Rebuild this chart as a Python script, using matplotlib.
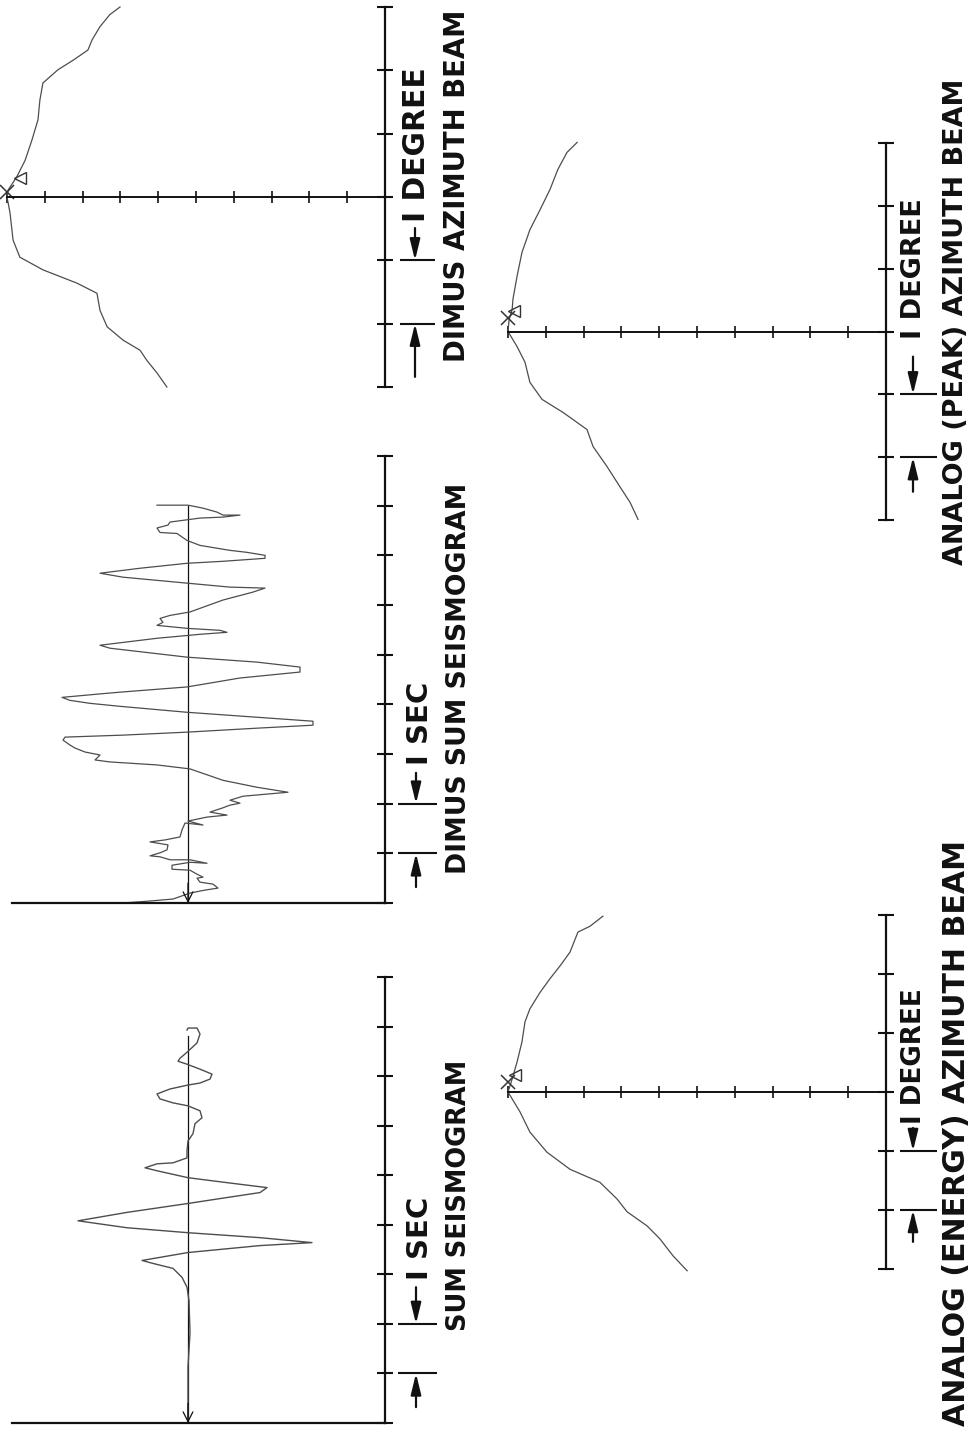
import matplotlib
matplotlib.use("Agg")
import matplotlib.pyplot as plt
import matplotlib.transforms as mtransforms

W, H, DPI = 977, 1431, 100

# ---------------- data ----------------
deg_ticks = [-3, -2, -1, 0, 1, 2, 3]
level_ticks = list(range(0, 11))
sec_ticks = list(range(0, 10))

# DIMUS azimuth beam (azimuth deg, relative level, 10 = peak)
dimus_beam_az = [3.0, 2.88, 2.69, 2.48, 2.32, 2.16, 2.01, 1.80, 1.53, 1.22, 0.90, 0.58, 0.32, 0.11,
                 0.0, -0.25, -0.68, -0.95, -1.15, -1.36, -1.52, -1.79, -2.05, -2.26, -2.42, -2.58,
                 -2.78, -3.0]
dimus_beam_lvl = [7.01, 7.28, 7.54, 7.75, 7.86, 8.25, 8.65, 9.05, 9.13, 9.18, 9.34, 9.52, 9.74, 9.97,
                  10.0, 9.92, 9.84, 9.66, 9.05, 8.15, 7.62, 7.54, 7.35, 6.93, 6.48, 6.30, 6.03, 5.77]

# Analog (peak) azimuth beam
peak_beam_az = [3.01, 2.85, 2.58, 2.26, 1.94, 1.62, 1.26, 0.88, 0.51, 0.35, 0.19, 0.0, -0.24, -0.49,
                -0.81, -1.08, -1.29, -1.56, -1.83, -2.15, -2.47, -2.72, -2.99]
peak_beam_lvl = [8.17, 8.44, 8.68, 8.89, 9.15, 9.42, 9.63, 9.76, 9.87, 9.89, 9.97, 10.0, 9.76, 9.55,
                 9.42, 9.10, 8.54, 7.91, 7.75, 7.38, 7.04, 6.77, 6.56]

# Analog (energy) azimuth beam
energy_beam_az = [2.98, 2.81, 2.71, 2.37, 2.14, 1.92, 1.69, 1.41, 1.19, 0.85, 0.51, 0.22, 0.0, -0.34,
                  -0.68, -1.02, -1.31, -1.53, -1.81, -2.03, -2.27, -2.49, -2.78, -3.03]
energy_beam_lvl = [7.49, 7.83, 8.15, 8.36, 8.62, 8.89, 9.15, 9.42, 9.55, 9.63, 9.76, 9.89, 10.0, 9.68,
                   9.42, 8.97, 8.36, 7.57, 7.12, 6.85, 6.32, 5.98, 5.63, 5.26]

# beam markers (x = peak mark, triangle = reference) : (level, azimuth)
dimus_marks = [(10.0, 0.08), (9.66, 0.30)]
peak_marks = [(10.0, 0.22), (9.84, 0.32)]
energy_marks = [(10.0, 0.17), (9.81, 0.29)]

# DIMUS sum seismogram (time s, amplitude)
dimus_t = [0.00, 0.04, 0.08, 0.20, 0.26, 0.30, 0.38, 0.42, 0.50, 0.52,
           0.58, 0.66, 0.68, 0.76, 0.82, 0.80, 0.87, 0.87, 0.93, 0.95,
           1.01, 1.07, 1.17, 1.23, 1.27, 1.33, 1.47, 1.61, 1.57, 1.65,
           1.73, 1.77, 1.83, 1.91, 1.97, 2.01, 2.07, 2.15, 2.23, 2.33,
           2.47, 2.70, 2.78, 2.84, 2.88, 2.98, 3.04, 3.12, 3.18, 3.28,
           3.34, 3.38, 3.44, 3.52, 3.58, 3.66, 3.74, 3.84, 3.96, 4.02,
           4.08, 4.14, 4.21, 4.25, 4.35, 4.53, 4.65, 4.75, 4.85, 4.95,
           5.13, 5.19, 5.33, 5.41, 5.45, 5.49, 5.53, 5.59, 5.65, 5.73,
           5.79, 5.86, 6.10, 6.26, 6.34, 6.36, 6.44, 6.56, 6.64, 6.74,
           6.84, 6.88, 6.94, 7.00, 7.06, 7.10, 7.20, 7.30, 7.44, 7.46,
           7.55, 7.61, 7.67, 7.75, 7.77, 7.81, 7.81, 7.87, 7.95, 8.01,
           8.01]
dimus_amp = [-6.5, -3.8, -1.5, 0.2, 1.7, 3.0, 2.5, 1.2, 0.9, 1.5,
             0.9, 0.2, -1.6, -1.6, 0.2, 1.9, 0.2, -1.8, -2.8, -3.8,
             -2.8, -2.1, -2.0, -3.8, -2.3, -0.8, -0.6, -0.3, 1.5, 0.0,
             1.9, 3.9, 2.2, 3.4, 4.2, 5.2, 4.2, 5.5, 10.0, 6.9,
             3.5, 0.2, -3.1, -7.8, -9.3, -8.8, -10.3, -11.3, -11.8, -12.5,
             -12.3, -6.5, -0.1, 6.9, 12.5, 12.5, 6.9, -0.1, -6.8, -9.8,
             -11.8, -12.6, -8.8, -6.5, -0.1, 5.2, 11.2, 11.2, 6.9, -0.1,
             -7.8, -8.8, -3.1, 1.2, 3.9, 3.2, -0.1, -3.1, -2.5, -2.8,
             -1.8, 0.2, 3.5, 6.5, 7.7, 4.2, -0.1, -6.5, -8.8, -4.8,
             -0.1, 3.5, 7.7, 7.7, 5.9, 4.2, 1.2, -0.1, -1.1, -2.8,
             -3.1, -2.0, -1.8, 1.2, 3.5, 5.2, 3.5, 2.9, 1.5, 0.0,
             -3.1]

# Sum seismogram (time s, amplitude)
sum_t = [0.00, 1.13, 1.81, 2.47, 2.74, 2.94, 3.12, 3.22, 3.28, 3.44,
         3.58, 3.64, 3.74, 3.84, 3.94, 4.08, 4.25, 4.43, 4.55, 4.65,
         4.75, 4.85, 4.95, 5.09, 5.15, 5.23, 5.25, 5.35, 5.49, 5.69,
         5.84, 6.04, 6.16, 6.30, 6.40, 6.46, 6.54, 6.64, 6.74, 6.82,
         6.86, 6.94, 7.04, 7.14, 7.24, 7.30, 7.36, 7.50, 7.67, 7.85,
         7.97, 7.97, 7.93]
sum_amp = [0.0, 0.0, 0.2, 0.1, -0.1, -0.6, -1.5, -3.5, -4.6, 0.0,
           7.2, 12.4, 7.2, 0.0, -6.1, -11.0, -6.1, 0.0, 3.9, 7.2,
           7.9, 3.9, 0.0, -3.1, -4.3, -3.1, -1.5, -0.1, -0.1, 0.0,
           0.5, 0.7, 1.4, 1.2, 0.0, -1.5, -2.8, -3.1, -1.8, 0.0,
           1.2, 2.2, 2.4, 1.2, -0.1, -1.0, -0.8, 0.0, 0.9, 1.2,
           0.9, 0.0, -0.1]

dimus_baseline_end = 8.0
sum_baseline_end = 7.8

titles = {
    "dimus_beam": "DIMUS AZIMUTH BEAM",
    "peak_beam": "ANALOG (PEAK) AZIMUTH BEAM",
    "energy_beam": "ANALOG (ENERGY) AZIMUTH BEAM",
    "dimus_sum": "DIMUS SUM SEISMOGRAM",
    "sum": "SUM SEISMOGRAM",
}
deg_label = "I DEGREE"
sec_label = "I SEC"

# ---------------- figure ----------------
INK = "#111111"
TRACE = "#4d4d4d"
FONT = ["DejaVu Sans"]

fig = plt.figure(figsize=(W / DPI, H / DPI), dpi=DPI)
fig.patch.set_facecolor("white")
renderer = fig.canvas.get_renderer()


def add_ax(left, top, right, bottom):
    return fig.add_axes([left / W, 1 - bottom / H, (right - left) / W, (bottom - top) / H])


def common_axes(ax):
    ax.patch.set_visible(False)
    for s in ("top", "left"):
        ax.spines[s].set_visible(False)
    ax.spines["right"].set_linewidth(1.6)
    ax.spines["right"].set_color(INK)
    ax.spines["bottom"].set_color(INK)
    ax.yaxis.set_ticks_position("right")
    ax.tick_params(axis="y", direction="inout", length=12, width=1.5, colors=INK,
                   labelright=False, labelleft=False)


def setup_beam(ax):
    common_axes(ax)
    ax.set_xlim(10, 0)
    ax.set_ylim(-3, 3)
    ax.spines["bottom"].set_position(("data", 0))
    ax.spines["bottom"].set_linewidth(1.4)
    ax.set_yticks(deg_ticks)
    ax.set_xticks(level_ticks)
    ax.xaxis.set_ticks_position("bottom")
    ax.tick_params(axis="x", direction="inout", length=8.5, width=1.2, colors=INK,
                   labelbottom=False)


def setup_seis(ax):
    common_axes(ax)
    ax.set_xlim(-17.6, 19.7)
    ax.set_ylim(0, 9)
    ax.spines["bottom"].set_linewidth(1.6)
    ax.set_yticks(sec_ticks)
    ax.set_xticks([])


def bracket(ax, wpx, y_up, y_lo, tail_up, tail_lo, x0=14, x1=51, xs=30):
    tr = mtransforms.blended_transform_factory(ax.transAxes, ax.transData)
    f = lambda d: 1 + d / wpx
    for y in (y_up, y_lo):
        ax.plot([f(x0), f(x1)], [y, y], transform=tr, color=INK, lw=1.5, clip_on=False,
                solid_capstyle="butt")
    for head, tail in ((y_up, tail_up), (y_lo, tail_lo)):
        ax.annotate("", xy=(f(xs), head), xytext=(f(xs), tail), xycoords=tr, textcoords=tr,
                    arrowprops=dict(arrowstyle="-|>,head_length=0.9,head_width=0.22",
                                    color=INK, lw=1.6, mutation_scale=14,
                                    shrinkA=0, shrinkB=0))


def vtext(ax, wpx, dx, y, s, length_px=None, fs=20):
    tr = mtransforms.blended_transform_factory(ax.transAxes, ax.transData)
    t = ax.text(1 + dx / wpx, y, s, transform=tr, rotation=90, rotation_mode="anchor",
                ha="center", va="center", fontsize=fs, fontweight="bold", color=INK,
                family=FONT, clip_on=False)
    if length_px is not None:
        bb = t.get_window_extent(renderer=renderer)
        t.set_fontsize(fs * length_px / bb.height)
    return t


def draw_beam(ax, az, lvl, marks):
    ax.plot(lvl, az, color=TRACE, lw=0.9, clip_on=False)
    (xl, xa), (tl, ta) = marks
    ax.plot([xl], [xa], marker="x", ms=10, mew=1.1, color="#333333", clip_on=False)
    ax.plot([tl], [ta], marker="<", ms=8, mew=1.0, mfc="none", mec="#333333", clip_on=False)


# --- DIMUS azimuth beam ---
axA = add_ax(7, 7, 385, 387)
setup_beam(axA)
draw_beam(axA, dimus_beam_az, dimus_beam_lvl, dimus_marks)
bracket(axA, 378, -1, -2, -0.49, -2.84, x0=15, x1=50, xs=30)
vtext(axA, 378, 31, 0.82, deg_label, 154)
vtext(axA, 378, 72, 0.17, titles["dimus_beam"], 353)

# --- Analog (peak) azimuth beam ---
axB = add_ax(508, 143, 886, 520)
setup_beam(axB)
draw_beam(axB, peak_beam_az, peak_beam_lvl, peak_marks)
bracket(axB, 378, -1, -2, -0.40, -2.55, x0=14, x1=51, xs=27)
vtext(axB, 378, 28, 1.0, deg_label, 140)
vtext(axB, 378, 70, 0.15, titles["peak_beam"], 485)

# --- Analog (energy) azimuth beam ---
axC = add_ax(508, 915, 886, 1269)
setup_beam(axC)
draw_beam(axC, energy_beam_az, energy_beam_lvl, energy_marks)
bracket(axC, 378, -1, -2, -0.61, -2.54, x0=14, x1=51, xs=27)
vtext(axC, 378, 28, 0.60, deg_label, 136)
vtext(axC, 378, 70, -0.69, titles["energy_beam"], 585)

# --- DIMUS sum seismogram ---
axD = add_ax(12, 456, 385, 903)
setup_seis(axD)
axD.plot([0, 0], [0, dimus_baseline_end], color=INK, lw=0.9)
axD.plot(dimus_amp, dimus_t, color=TRACE, lw=0.9, clip_on=False)
axD.annotate("", xy=(0, 0), xytext=(0, 0.4),
             arrowprops=dict(arrowstyle="->,head_length=0.5,head_width=0.25", color=INK, lw=0.9,
                             shrinkA=0, shrinkB=0, mutation_scale=14))
bracket(axD, 373, 2, 1, 2.62, 0.32, x0=13, x1=52, xs=31)
vtext(axD, 373, 35, 3.62, sec_label, fs=21)
vtext(axD, 373, 74, 4.53, titles["dimus_sum"], 390)

# --- Sum seismogram ---
axE = add_ax(12, 977, 385, 1423)
setup_seis(axE)
axE.plot([0, 0], [0, sum_baseline_end], color=INK, lw=0.9)
axE.plot(sum_amp, sum_t, color=TRACE, lw=1.0, clip_on=False)
axE.annotate("", xy=(0, 0), xytext=(0, 0.4),
             arrowprops=dict(arrowstyle="->,head_length=0.5,head_width=0.25", color=INK, lw=0.9,
                             shrinkA=0, shrinkB=0, mutation_scale=14))
bracket(axE, 373, 2, 1, 2.74, 0.32, x0=13, x1=52, xs=31)
vtext(axE, 373, 35, 3.72, sec_label, fs=21)
vtext(axE, 373, 74, 4.60, titles["sum"], 270)

fig.savefig("out.png", dpi=DPI, facecolor="white")
